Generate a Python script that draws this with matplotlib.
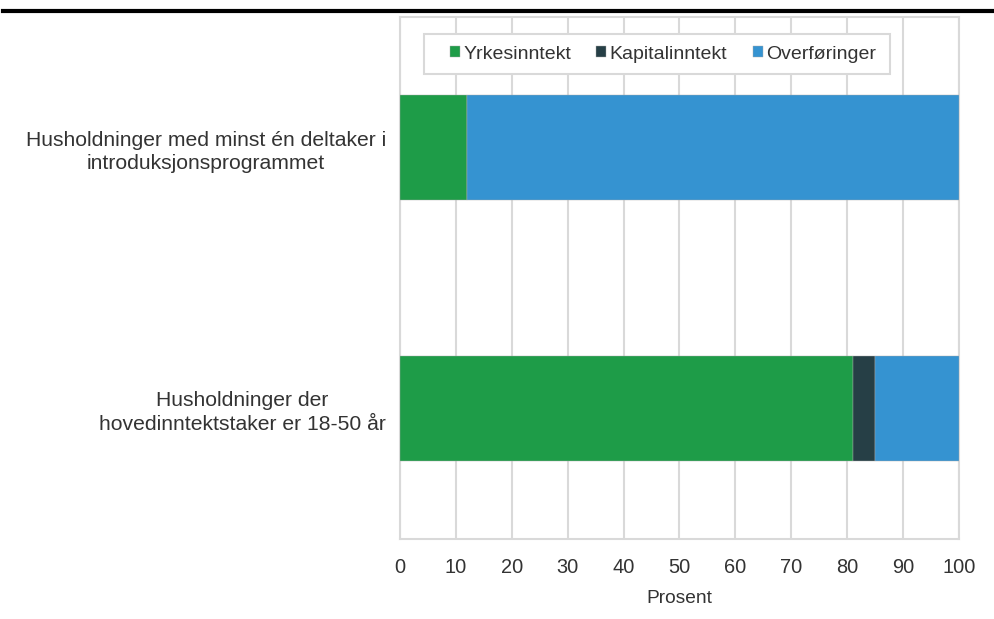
import matplotlib as mpl
import matplotlib.pyplot as plt
import matplotlib.patches as patches
from matplotlib.lines import Line2D

# data (percent of household income)
categories = ['Husholdninger med minst én deltaker i\nintroduksjonsprogrammet',
              'Husholdninger der\nhovedinntektstaker er 18-50 år']
series = ['Yrkesinntekt', 'Kapitalinntekt', 'Overføringer']
yrkes = [12, 81]
kapital = [0, 4]
overf = [88, 15]
colors = ['#1e9c48', '#263f46', '#3593d1']

mpl.rcParams['font.family'] = ['Liberation Sans', 'DejaVu Sans']
text_col = '#333333'
grid_col = '#d9d9d9'

fig = plt.figure(figsize=(9.95, 6.19), dpi=100)
ax = fig.add_axes([400 / 995, 80 / 619, 559 / 995, 522 / 619])

ypos = list(range(len(categories)))
left = [0] * len(categories)
for vals, name, c in zip([yrkes, kapital, overf], series, colors):
    ax.barh(ypos, vals, left=left, height=0.4, color=c, label=name,
            edgecolor='#aaaaaa', linewidth=0.3, zorder=3)
    left = [l + v for l, v in zip(left, vals)]

ax.set_xlim(0, 100)
ax.set_ylim(1.5, -0.5)
ax.set_xticks(range(0, 101, 10))
ax.set_yticks(ypos)
ax.set_yticklabels(categories, multialignment='center', linespacing=1.3,
                   fontsize=15.2)
ax.tick_params(axis='both', length=0, colors=text_col)
ax.tick_params(axis='x', labelsize=14.4, pad=14)
ax.tick_params(axis='y', pad=10)
ax.set_xlabel('Prosent', fontsize=13.8, color=text_col, labelpad=9)

ax.xaxis.grid(True, color=grid_col, linewidth=1.5, zorder=0)
ax.set_axisbelow(True)
for s in ax.spines.values():
    s.set_color(grid_col)
    s.set_linewidth(1.5)

# legend box drawn by hand so the padding matches
box = patches.Rectangle((0.043, 0.891), 0.834, 0.076, transform=ax.transAxes,
                        facecolor='white', edgecolor=grid_col, linewidth=1.5,
                        zorder=5)
ax.add_patch(box)
leg = ax.legend(loc='center left', bbox_to_anchor=(0.089, 0.929), ncol=3,
                frameon=False, fontsize=14, borderpad=0, borderaxespad=0,
                handlelength=0.52, handleheight=0.52, handletextpad=0.17,
                columnspacing=1.3, labelcolor=text_col)
leg.set_zorder(6)

# thick rule across the top
fig.add_artist(Line2D([3 / 995, 1], [1 - 10.5 / 619, 1 - 10.5 / 619],
                      color='black', linewidth=3))

fig.savefig('out.png', dpi=100)
